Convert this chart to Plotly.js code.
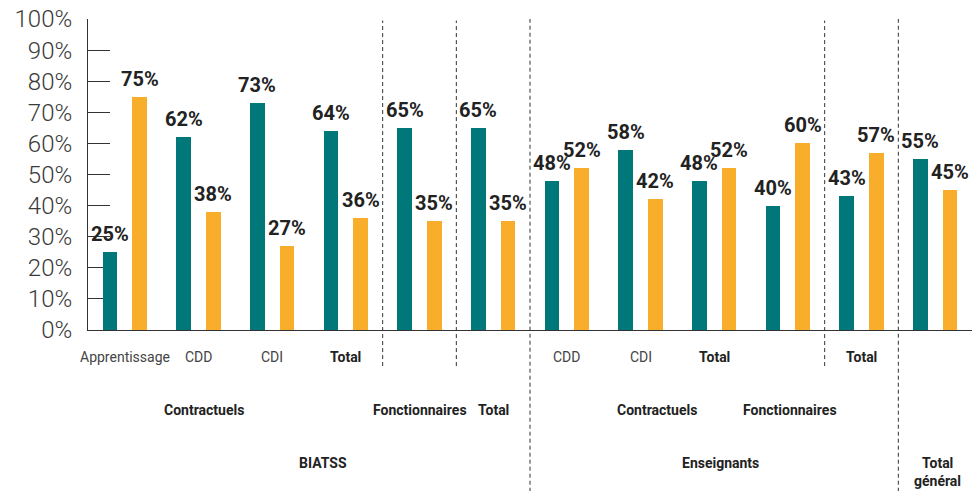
<!DOCTYPE html>
<html>
<head>
<meta charset="utf-8">
<script src="https://cdn.plot.ly/plotly-3.0.1.min.js"></script>
<style>html,body{margin:0;padding:0;background:#fff;}#chart{width:972px;height:491px;}</style>
</head>
<body>
<div id="chart"></div>
<script>
// Data
const categories = ['Apprentissage', 'CDD', 'CDI', 'Total', '', '', 'CDD', 'CDI', 'Total', '', 'Total', ''];
const categoryBold = [false, false, false, true, false, false, false, false, true, false, true, false];
const tealValues = [25, 62, 73, 64, 65, 65, 48, 58, 48, 40, 43, 55];
const orangeValues = [75, 38, 27, 36, 35, 35, 52, 42, 52, 60, 57, 45];
const level2Labels = ['Contractuels', 'Fonctionnaires', 'Total', 'Contractuels', 'Fonctionnaires'];
const level2Pos = [1.07, 4.0, 5.0, 7.22, 9.03];
const level3Labels = ['BIATSS', 'Enseignants', 'Total', 'général'];
const level3Pos = [2.69, 8.08, 11.03, 11.03];
const level3Line = [0, 0, 0, 1];
const shortSeparators = [3.5, 4.5, 9.5];
const longSeparators = [5.5, 10.5];
const yTicks = [0, 10, 20, 30, 40, 50, 60, 70, 80, 90, 100];

const TEAL = '#00787a';
const ORANGE = '#f8ae2b';
const idx = categories.map((_, i) => i);

const traces = [
  {type: 'bar', x: idx, y: tealValues, offset: -0.3, width: 0.2, marker: {color: TEAL}, hoverinfo: 'y'},
  {type: 'bar', x: idx, y: orangeValues, offset: 0.1, width: 0.2, marker: {color: ORANGE}, hoverinfo: 'y'}
];

const annotations = [];
const valFont = {family: 'Roboto', size: 20, color: '#222', weight: 700};
const boldFont = {family: 'Roboto', size: 14, color: '#222', weight: 700};
idx.forEach(i => {
  annotations.push({x: i - 0.2, y: tealValues[i], xref: 'x', yref: 'y', text: tealValues[i] + '%', showarrow: false, yanchor: 'bottom', yshift: 4, font: valFont});
  annotations.push({x: i + 0.2, y: orangeValues[i], xref: 'x', yref: 'y', text: orangeValues[i] + '%', showarrow: false, yanchor: 'bottom', yshift: 4, font: valFont});
  if (categories[i]) {
    annotations.push({x: i, y: 0, xref: 'x', yref: 'paper', text: categoryBold[i] ? '<b>' + categories[i] + '</b>' : categories[i], showarrow: false, yanchor: 'middle', yshift: -27,
      font: categoryBold[i] ? boldFont : {family: 'Roboto', size: 14, color: '#444', weight: 400}});
  }
});
level2Labels.forEach((t, k) => {
  annotations.push({x: level2Pos[k], y: 0, xref: 'x', yref: 'paper', text: '<b>' + t + '</b>', showarrow: false, yanchor: 'middle', yshift: -80, font: boldFont});
});
level3Labels.forEach((t, k) => {
  annotations.push({x: level3Pos[k], y: 0, xref: 'x', yref: 'paper', text: '<b>' + t + '</b>', showarrow: false, yanchor: 'middle', yshift: -133 - 18 * level3Line[k], font: boldFont});
});

const shapes = [];
shortSeparators.forEach(x => shapes.push({type: 'line', xref: 'x', yref: 'paper', x0: x, x1: x, y0: -0.116, y1: 0.995, line: {color: '#333', width: 1, dash: '4px,3px'}}));
longSeparators.forEach(x => shapes.push({type: 'line', xref: 'x', yref: 'paper', x0: x, x1: x, y0: -0.52, y1: 1.0, line: {color: '#333', width: 1, dash: '4px,3px'}}));

const layout = {
  width: 972, height: 491,
  margin: {l: 88, r: 0, t: 19, b: 161},
  paper_bgcolor: '#fff', plot_bgcolor: '#fff',
  showlegend: false,
  bargap: 0,
  xaxis: {range: [-0.5, 11.5], showticklabels: false, ticks: '', showgrid: false, zeroline: false, showline: true, linecolor: '#333', linewidth: 1, fixedrange: true},
  yaxis: {range: [0, 100], tickvals: yTicks, ticktext: yTicks.map(v => v + '%'), ticks: 'inside', ticklen: 22, tickcolor: '#333', tickwidth: 1,
    ticklabelstandoff: 10,
    showgrid: false, zeroline: false, showline: true, linecolor: '#333', linewidth: 1, layer: 'below traces',
    tickfont: {family: 'Roboto', size: 24, color: '#3a3a3a', weight: 300}, fixedrange: true},
  annotations: annotations,
  shapes: shapes
};

Plotly.newPlot('chart', traces, layout, {displayModeBar: false, staticPlot: true});
</script>
</body>
</html>
